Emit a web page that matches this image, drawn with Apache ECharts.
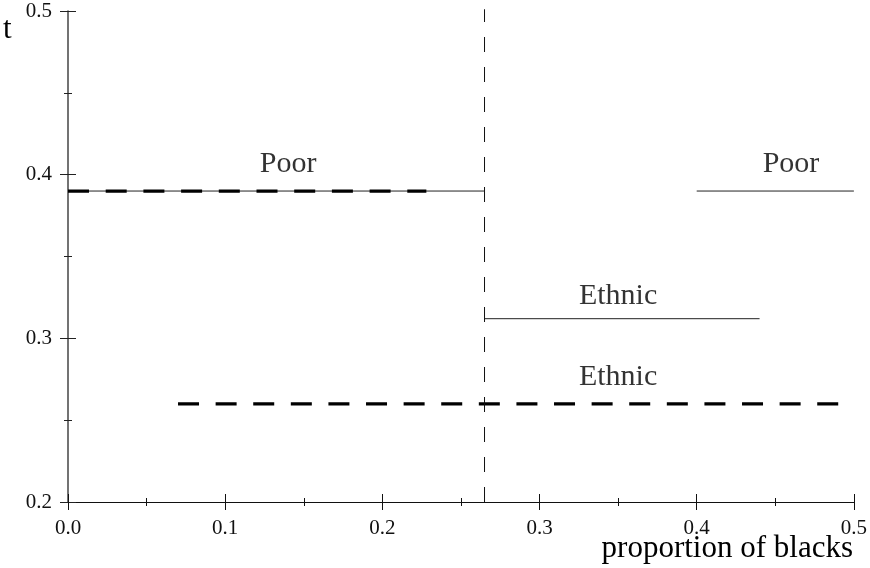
<!DOCTYPE html>
<html>
<head>
<meta charset="utf-8">
<script src="https://cdn.jsdelivr.net/npm/echarts@6/dist/echarts.min.js"></script>
<style>
html,body{margin:0;padding:0;background:#fff;}
#chart{width:870px;height:568px;}
</style>
</head>
<body>
<div id="chart"></div>
<script>
// ---- data ----
const xRange = [0, 0.5];
const yRange = [0.2, 0.5];
const poorDashed = [[0, 0.39], [0.228, 0.39]];
const poorThinLeft = [[0, 0.39], [0.265, 0.39]];
const poorThinRight = [[0.4, 0.39], [0.5, 0.39]];
const ethnicThin = [[0.265, 0.312], [0.44, 0.312]];
const ethnicDashed = [[0.07, 0.26], [0.5, 0.26]];
const threshold = [[0.265, 0.2], [0.265, 0.501]];
const labelTexts = ['Poor', 'Poor', 'Ethnic', 'Ethnic'];
const labelX = [0.14, 0.46, 0.35, 0.35];
const labelY = [0.4065, 0.4065, 0.326, 0.276];
const xTitle = 'proportion of blacks';
const yTitle = 't';

const FONT = '"Liberation Serif", "Times New Roman", serif';
const chart = echarts.init(document.getElementById('chart'), null, {renderer: 'canvas'});

function baseAxis(extra) {
  return Object.assign({
    type: 'value',
    interval: 0.1,
    splitLine: {show: false},
    minorSplitLine: {show: false}
  }, extra);
}

const xAxes = [
  baseAxis({
    min: xRange[0], max: xRange[1], position: 'bottom',
    axisLine: {show: true, onZero: false, lineStyle: {color: '#111', width: 1}},
    axisTick: {show: true, inside: false, length: 8, lineStyle: {color: '#111', width: 1}},
    minorTick: {show: true, splitNumber: 2, length: 4, lineStyle: {color: '#111', width: 1}},
    axisLabel: {show: true, margin: 16, color: '#111', fontFamily: FONT, fontSize: 21,
      formatter: v => v.toFixed(1)}
  }),
  baseAxis({
    min: xRange[0], max: xRange[1], position: 'bottom',
    axisLine: {show: false, onZero: false},
    axisTick: {show: true, inside: true, length: 8, lineStyle: {color: '#111', width: 1}},
    minorTick: {show: true, splitNumber: 2, length: 4, lineStyle: {color: '#111', width: 1}},
    axisLabel: {show: false}
  })
];
const yAxes = [
  baseAxis({
    min: yRange[0], max: yRange[1], position: 'left',
    axisLine: {show: true, onZero: false, lineStyle: {color: '#444', width: 1.5}},
    axisTick: {show: true, inside: false, length: 8, lineStyle: {color: '#222', width: 1}},
    minorTick: {show: true, splitNumber: 2, length: 4, lineStyle: {color: '#222', width: 1}},
    axisLabel: {show: true, margin: 16, color: '#111', fontFamily: FONT, fontSize: 21,
      formatter: v => v.toFixed(1)}
  }),
  baseAxis({
    min: yRange[0], max: yRange[1], position: 'left',
    axisLine: {show: false, onZero: false},
    axisTick: {show: true, inside: true, length: 8, lineStyle: {color: '#222', width: 1}},
    minorTick: {show: true, splitNumber: 2, length: 4, lineStyle: {color: '#222', width: 1}},
    axisLabel: {show: false}
  })
];

function seg(data, width, dash, color) {
  return {
    type: 'line', data: data, symbol: 'none', clip: false, silent: true,
    lineStyle: {color: color || '#000', width: width, type: dash || 'solid', cap: 'butt'},
    z: 3
  };
}

const labelData = labelTexts.map((t, i) => [labelX[i], labelY[i], t]);

chart.setOption({
  animation: false,
  backgroundColor: '#fff',
  grid: {left: 68, right: 14, top: 11, bottom: 66, containLabel: false},
  xAxis: xAxes,
  yAxis: yAxes,
  series: [
    seg(poorThinLeft, 1, 'solid', '#222'),
    seg(poorThinRight, 1, 'solid', '#222'),
    seg(ethnicThin, 1, 'solid', '#222'),
    seg(poorDashed, 3.2, [21, 16.7], '#000'),
    seg(ethnicDashed, 3.2, [21, 16.6], '#000'),
    seg(threshold, 1, [15, 15], '#111'),
    {
      type: 'scatter', data: labelData, symbolSize: 0, silent: true,
      label: {show: true, position: 'inside', formatter: p => p.value[2],
        color: '#000', fontFamily: FONT, fontSize: 30, align: 'center', verticalAlign: 'middle'},
      z: 5
    }
  ],
  graphic: [
    {type: 'text', left: 3, top: 14, style: {text: yTitle, font: '31px ' + FONT, fill: '#000'}},
    {type: 'text', right: 17, top: 533, style: {text: xTitle, font: '31px ' + FONT, fill: '#000'}}
  ]
});
</script>
</body>
</html>
